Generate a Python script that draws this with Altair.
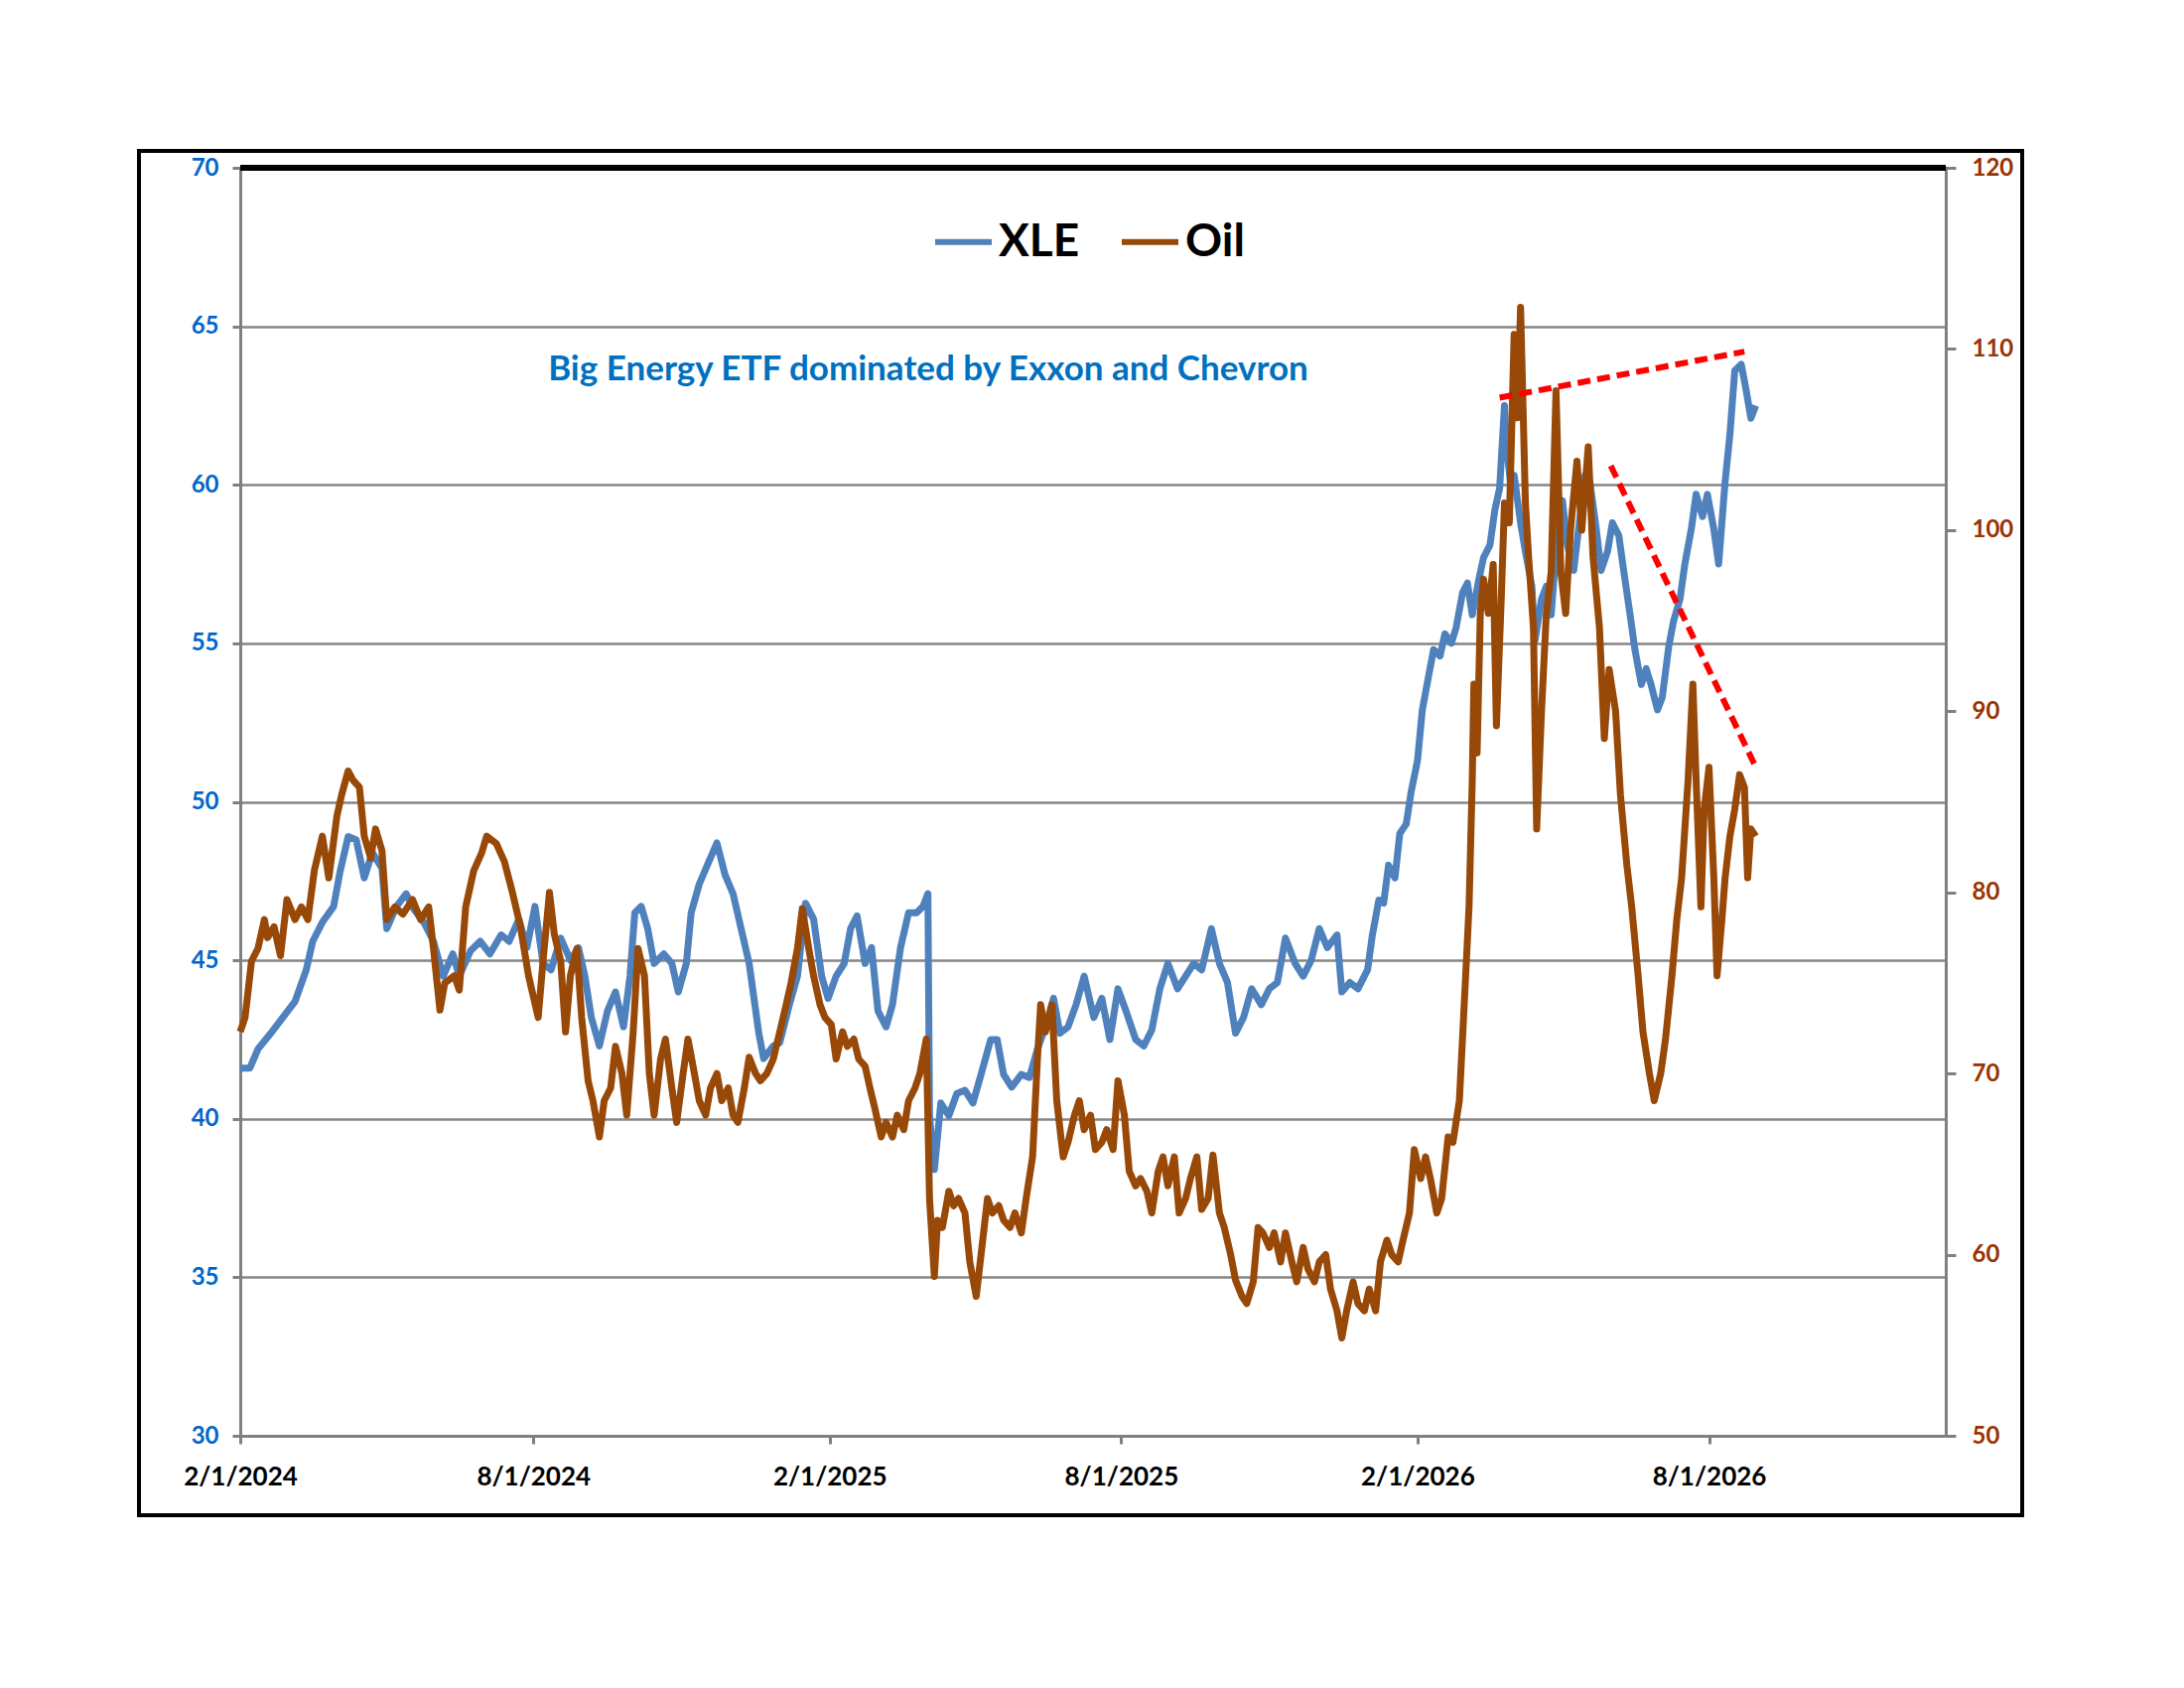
import altair as alt
import pandas as pd

# ---------------- data (days after 2024-02-01, value) ----------------
start = pd.Timestamp("2024-02-01")

xle_days = [0, 6, 11, 19, 28, 34, 41, 45, 51, 58, 62, 67, 72, 77, 82, 88, 91, 97, 103, 108,
            114, 120, 126, 132, 136, 143, 149, 155, 162, 167, 173, 178, 183, 188, 193, 199, 205, 210, 214, 218,
            223, 228, 233, 238, 242, 245, 249, 253, 257, 263, 268, 272, 277, 280, 285, 290, 296, 301, 306, 311,
            316, 322, 325, 331, 335, 341, 346, 351, 356, 361, 365, 370, 375, 379, 383, 388, 392, 396, 401, 405,
            410, 415, 420, 424, 427, 428, 431, 435, 440, 445, 450, 455, 460, 466, 470, 474, 479, 485, 490, 495,
            500, 505, 509, 514, 519, 524, 530, 535, 540, 545, 550, 556, 561, 566, 571, 576, 582, 587, 592, 597,
            603, 608, 613, 618, 623, 628, 634, 639, 644, 649, 655, 660, 665, 670, 675, 681, 684, 689, 694, 700,
            703, 707, 710, 713, 717, 720, 724, 727, 731, 734, 738, 741, 745, 748, 752, 755, 759, 762, 765, 769,
            772, 776, 779, 782, 785, 786, 789, 791, 795, 798, 802, 804, 808, 811, 814, 817, 821, 824, 828, 831,
            835, 838, 842, 845, 849, 852, 856, 859, 863, 866, 870, 873, 876, 880, 883, 887, 890, 894, 897, 901,
            904, 908, 911, 915, 918, 922, 925, 928, 932, 935, 938, 941]
xle_vals = [41.6, 41.6, 42.2, 42.7, 43.3, 43.7, 44.7, 45.6, 46.2, 46.7, 47.8, 48.9, 48.8, 47.6, 48.4, 47.9, 46.0, 46.7, 47.1, 46.6,
            46.2, 45.6, 44.5, 45.2, 44.5, 45.3, 45.6, 45.2, 45.8, 45.6, 46.3, 45.4, 46.7, 44.9, 44.7, 45.7, 45.0, 45.4, 44.5, 43.2,
            42.3, 43.4, 44.0, 42.9, 44.5, 46.5, 46.7, 46.0, 44.9, 45.2, 44.9, 44.0, 44.9, 46.5, 47.4, 48.0, 48.7, 47.7, 47.1, 46.0,
            44.9, 42.7, 41.9, 42.3, 42.4, 43.6, 44.5, 46.8, 46.3, 44.5, 43.8, 44.5, 44.9, 46.0, 46.4, 44.9, 45.4, 43.4, 42.9, 43.6,
            45.4, 46.5, 46.5, 46.7, 47.1, 40.1, 38.4, 40.5, 40.1, 40.8, 40.9, 40.5, 41.4, 42.5, 42.5, 41.4, 41.0, 41.4, 41.3, 42.2,
            42.9, 43.8, 42.7, 42.9, 43.6, 44.5, 43.2, 43.8, 42.5, 44.1, 43.4, 42.5, 42.3, 42.8, 44.1, 44.9, 44.1, 44.5, 44.9, 44.7,
            46.0, 44.9, 44.3, 42.7, 43.2, 44.1, 43.6, 44.1, 44.3, 45.7, 44.9, 44.5, 45.0, 46.0, 45.4, 45.8, 44.0, 44.3, 44.1, 44.7,
            45.8, 46.9, 46.8, 48.0, 47.6, 49.0, 49.3, 50.3, 51.3, 52.9, 54.0, 54.8, 54.6, 55.3, 55.0, 55.5, 56.6, 56.9, 55.9, 57.0,
            57.7, 58.1, 59.2, 59.9, 62.5, 61.4, 59.9, 60.3, 58.8, 57.9, 56.8, 55.1, 56.4, 56.8, 55.9, 57.9, 59.5, 58.1, 57.3, 58.6,
            60.3, 60.1, 58.6, 57.3, 57.9, 58.8, 58.4, 57.3, 55.9, 54.8, 53.7, 54.2, 53.7, 52.9, 53.3, 54.9, 55.7, 56.4, 57.5, 58.6,
            59.7, 59.0, 59.7, 58.6, 57.5, 60.1, 61.6, 63.6, 63.8, 63.0, 62.1, 62.5]

oil_days = [0, 3, 7, 11, 15, 17, 21, 25, 29, 34, 38, 42, 46, 51, 55, 60, 63, 67, 70, 74,
            77, 81, 84, 88, 91, 96, 101, 107, 112, 117, 120, 124, 127, 133, 136, 140, 145, 150, 153, 159,
            164, 169, 174, 179, 185, 188, 192, 195, 199, 202, 205, 209, 212, 216, 219, 223, 226, 230, 233, 237,
            240, 244, 247, 251, 254, 257, 261, 264, 268, 271, 275, 278, 282, 285, 289, 292, 296, 299, 303, 306,
            309, 313, 316, 320, 323, 327, 331, 335, 339, 342, 346, 349, 353, 356, 360, 363, 367, 370, 374, 377,
            381, 384, 388, 391, 394, 398, 401, 405, 408, 412, 415, 419, 422, 426, 428, 431, 433, 436, 440, 443,
            446, 450, 453, 457, 460, 464, 467, 471, 474, 478, 481, 485, 488, 492, 495, 497, 500, 504, 507, 511,
            514, 518, 521, 524, 528, 531, 535, 538, 542, 545, 549, 552, 556, 559, 563, 566, 570, 573, 576, 580,
            583, 587, 590, 594, 597, 601, 604, 608, 611, 615, 618, 622, 625, 629, 632, 635, 639, 642, 646, 649,
            653, 656, 660, 663, 667, 670, 674, 677, 681, 684, 687, 691, 694, 698, 701, 705, 708, 712, 715, 719,
            722, 726, 729, 733, 736, 739, 743, 746, 750, 753, 757, 760, 763, 765, 766, 768, 770, 772, 775, 778,
            780, 783, 785, 788, 791, 793, 795, 798, 800, 803, 805, 808, 811, 814, 817, 820, 823, 826, 830, 833,
            837, 840, 844, 847, 850, 854, 857, 861, 864, 868, 871, 875, 878, 882, 885, 889, 892, 895, 899, 902,
            904, 907, 909, 912, 915, 917, 920, 922, 925, 928, 931, 934, 936, 938, 941]
oil_vals = [72.3, 73.1, 76.2, 76.9, 78.5, 77.5, 78.1, 76.5, 79.6, 78.5, 79.2, 78.5, 81.2, 83.1, 80.8, 84.2, 85.4, 86.7, 86.2, 85.8,
            83.1, 81.9, 83.5, 82.3, 78.5, 79.2, 78.8, 79.6, 78.5, 79.2, 76.9, 73.5, 75.0, 75.4, 74.6, 79.2, 81.2, 82.2, 83.1, 82.7,
            81.7, 80.0, 78.1, 75.4, 73.1, 76.2, 80.0, 77.7, 76.2, 72.3, 75.4, 76.9, 73.1, 69.6, 68.5, 66.5, 68.5, 69.2, 71.5, 70.0,
            67.7, 72.3, 76.9, 75.4, 70.0, 67.7, 70.8, 71.9, 69.2, 67.3, 70.0, 71.9, 70.0, 68.5, 67.7, 69.2, 70.0, 68.5, 69.2, 67.7,
            67.3, 69.2, 70.9, 70.0, 69.6, 70.0, 70.8, 72.3, 73.8, 75.0, 76.9, 79.1, 76.9, 75.4, 73.8, 73.1, 72.7, 70.8, 72.3, 71.5,
            71.9, 70.8, 70.4, 69.2, 68.1, 66.5, 67.3, 66.5, 67.7, 66.9, 68.5, 69.2, 70.0, 71.9, 63.1, 58.8, 61.9, 61.5, 63.5, 62.7,
            63.1, 62.3, 59.6, 57.7, 60.0, 63.1, 62.3, 62.7, 61.9, 61.5, 62.3, 61.2, 63.1, 65.4, 70.8, 73.8, 72.3, 73.8, 68.5, 65.4,
            66.2, 67.7, 68.5, 66.9, 67.7, 65.8, 66.2, 66.9, 65.8, 69.6, 67.7, 64.6, 63.8, 64.2, 63.5, 62.3, 64.6, 65.4, 63.8, 65.4,
            62.3, 63.1, 64.2, 65.4, 62.5, 63.1, 65.5, 62.3, 61.5, 60.0, 58.6, 57.7, 57.3, 58.5, 61.5, 61.2, 60.4, 61.2, 59.6, 61.2,
            59.6, 58.5, 60.4, 59.2, 58.5, 59.6, 60.0, 58.1, 56.9, 55.4, 56.9, 58.5, 57.3, 56.9, 58.1, 56.9, 59.6, 60.8, 60.0, 59.6,
            60.8, 62.3, 65.8, 64.2, 65.4, 64.2, 62.3, 63.1, 66.5, 66.2, 68.5, 73.8, 79.2, 86.2, 91.5, 87.7, 95.4, 97.3, 95.4, 98.1,
            89.2, 96.2, 101.5, 100.4, 110.8, 106.2, 112.3, 101.5, 98.5, 94.6, 83.5, 90.0, 95.4, 97.7, 107.7, 97.7, 95.4, 100.0, 103.8, 100.0,
            104.6, 98.5, 94.6, 88.5, 92.3, 90.0, 85.4, 81.5, 79.2, 75.4, 72.3, 70.0, 68.5, 70.0, 71.9, 75.4, 78.5, 80.8, 86.2, 91.5,
            86.2, 79.2, 84.6, 86.9, 80.8, 75.4, 78.5, 80.8, 83.1, 84.6, 86.5, 85.8, 80.8, 83.5, 83.1]

# red dashed trend lines (on the XLE scale)
trend_ids = ["top", "top", "fall", "fall"]
trend_days = [782, 934, 851, 941]
trend_vals = [62.75, 64.2, 60.6, 51.1]

series_names = ["XLE", "Oil"]
series_colors = ["#4F81BD", "#984807"]
x_tick_dates = ["2024-02-01", "2024-08-01", "2025-02-01", "2025-08-01", "2026-02-01", "2026-08-01"]
left_ticks = [30, 35, 40, 45, 50, 55, 60, 65, 70]
right_ticks = [50, 60, 70, 80, 90, 100, 110, 120]
subtitle = "Big Energy ETF dominated by Exxon and Chevron"

# ---------------- tables ----------------
xle_df = pd.DataFrame({"date": start + pd.to_timedelta(xle_days, unit="D"),
                       "value": xle_vals, "series": "XLE"})
oil_df = pd.DataFrame({"date": start + pd.to_timedelta(oil_days, unit="D"),
                       "value": oil_vals, "series": "Oil"})
trend_df = pd.DataFrame({"id": trend_ids,
                         "date": start + pd.to_timedelta(trend_days, unit="D"),
                         "value": trend_vals})
one = pd.DataFrame({"t": [subtitle]})

W, H = 1718, 1277
FONT = "Lato"

x_scale = alt.Scale(domain=[alt.DateTime(year=2024, month=2, date=1),
                            alt.DateTime(year=2026, month=12, date=26)], nice=False)
x_axis = alt.Axis(values=[alt.DateTime(year=int(d[:4]), month=int(d[5:7]), date=int(d[8:]))
                          for d in x_tick_dates],
                  format="%-m/%-d/%Y", title=None, grid=False,
                  labelFont=FONT, labelFontSize=26, labelFontWeight="bold", labelColor="black",
                  labelPadding=20, tickSize=8, tickColor="#808080", tickWidth=3,
                  domainColor="#808080", domainWidth=3, labelFlush=False)
x_enc = alt.X("date:T", scale=x_scale, axis=x_axis)

color_enc = alt.Color("series:N",
                      scale=alt.Scale(domain=series_names, range=series_colors),
                      legend=alt.Legend(title=None, orient="none", legendX=697, legendY=43,
                                        direction="horizontal", symbolType="stroke",
                                        symbolSize=3249, symbolStrokeWidth=6,
                                        labelFont=FONT, labelFontSize=46, labelFontWeight="bold",
                                        labelColor="black", labelOffset=4, columnPadding=30,
                                        padding=0))

left_axis = alt.Axis(orient="left", values=left_ticks, title=None,
                     labelFont=FONT, labelFontSize=24, labelFontWeight="bold", labelColor="#0066CC",
                     labelPadding=14, tickSize=8, tickColor="#808080", tickWidth=3,
                     domainColor="#808080", domainWidth=3,
                     grid=True, gridColor="#868686", gridWidth=2.5)
right_axis = alt.Axis(orient="right", values=right_ticks, title=None,
                      labelFont=FONT, labelFontSize=24, labelFontWeight="bold", labelColor="#993300",
                      labelPadding=16, tickSize=10, tickColor="#808080", tickWidth=3,
                      domainColor="#808080", domainWidth=3, grid=False)

xle_line = alt.Chart(xle_df).mark_line(strokeWidth=7, strokeJoin="round").encode(
    x=x_enc,
    y=alt.Y("value:Q", scale=alt.Scale(domain=[30, 70], nice=False, zero=False), axis=left_axis),
    color=color_enc,
)

oil_line = alt.Chart(oil_df).mark_line(strokeWidth=7, strokeJoin="round").encode(
    x=x_enc,
    y=alt.Y("value:Q", scale=alt.Scale(domain=[50, 120], nice=False, zero=False), axis=right_axis),
    color=color_enc,
)

trend = alt.Chart(trend_df).mark_line(strokeWidth=6, strokeDash=[13, 7], color="#FF0000").encode(
    x=x_enc,
    y=alt.Y("value:Q", scale=alt.Scale(domain=[30, 70], nice=False, zero=False), axis=None),
    detail="id:N",
)

frame = alt.Chart(one).mark_rect(filled=False, stroke="black", strokeWidth=4).encode(
    x=alt.value(-102), x2=alt.value(W + 77), y=alt.value(-17), y2=alt.value(H + 80))

top_border = alt.Chart(one).mark_rule(color="black", strokeWidth=6).encode(
    x=alt.value(0), x2=alt.value(W), y=alt.value(0))

sub = alt.Chart(one).mark_text(font=FONT, fontSize=35, fontWeight="bold", color="#0070C0",
                               align="center", baseline="alphabetic").encode(
    x=alt.value(693), y=alt.value(214), text="t:N")

chart = alt.layer(xle_line, oil_line, trend, frame, top_border, sub).resolve_scale(
    y="independent"
).properties(
    width=W, height=H,
    padding={"left": 234, "top": 161, "right": 200, "bottom": 200},
    autosize=alt.AutoSizeParams(type="none"),
    background="white",
).configure_view(stroke="black", strokeWidth=2)

chart.save("out.html", embed_options={"renderer": "svg", "actions": False})
